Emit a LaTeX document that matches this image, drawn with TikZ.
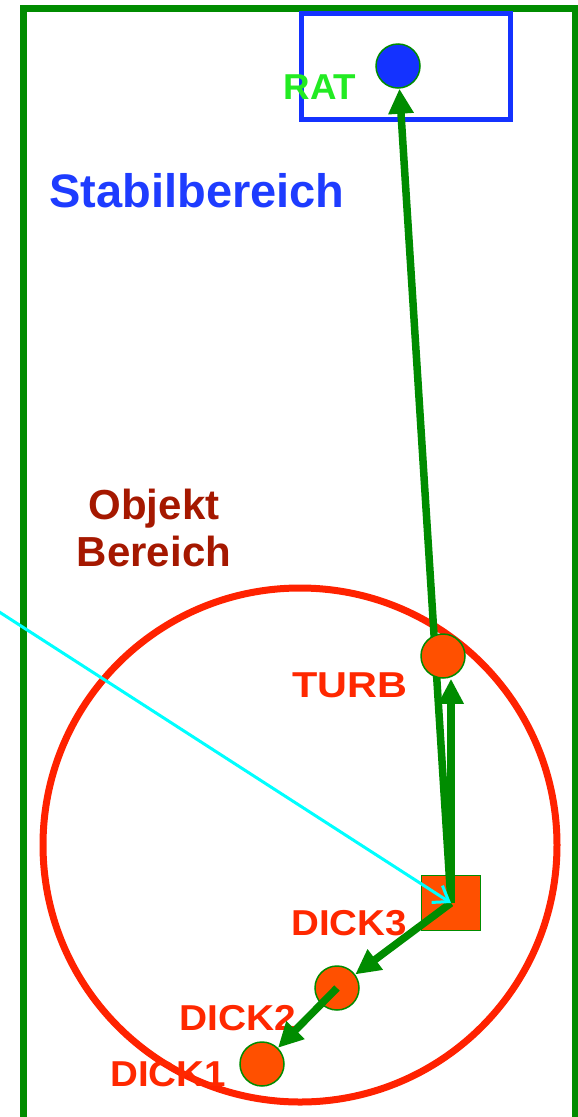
\documentclass[tikz,border=0pt]{standalone}
\usepackage{fontspec}
\setmainfont{Liberation Sans}
\usetikzlibrary{arrows.meta}
\definecolor{framegreen}{RGB}{0,140,0}
\definecolor{ringred}{RGB}{255,34,0}
\definecolor{objorange}{RGB}{255,80,0}
\definecolor{boxblue}{RGB}{20,50,255}
\definecolor{titleblue}{RGB}{30,60,255}
\definecolor{darkred}{RGB}{165,24,0}
\definecolor{labelred}{RGB}{255,40,0}
\definecolor{ratgreen}{RGB}{34,235,34}
\definecolor{linecyan}{RGB}{0,255,255}
\pgfdeclarelayer{foreground}
\pgfsetlayers{main,foreground}
\tikzset{
  obj/.style={circle,draw=framegreen,line width=1.5pt,fill=objorange,minimum size=44pt,inner sep=0pt},
  sqobj/.style={rectangle,draw=framegreen,line width=1.5pt,fill=objorange,minimum width=59pt,minimum height=55pt,inner sep=0pt},
  flow/.style={draw=framegreen,line width=7.5pt,-{Triangle[length=25pt,width=24pt]}},
  lbl/.style={font=\fontsize{36}{36}\selectfont\bfseries,anchor=base,inner sep=0pt},
  title/.style={font=\fontsize{47}{47}\selectfont\bfseries,anchor=base,inner sep=0pt},
  subtitle/.style={font=\fontsize{42}{42}\selectfont\bfseries,anchor=base,inner sep=0pt,text=darkred}
}
\begin{document}
\begin{tikzpicture}[x=1pt,y=-1pt]
\useasboundingbox (0,0) rectangle (578,1117);
\fill[white] (0,0) rectangle (578,1117);
% frame
\draw[framegreen,line width=7pt] (23.5,1140) -- (23.5,8.5) -- (575.5,8.5) -- (575.5,1140);
% stable region box
\draw[boxblue,line width=5pt] (301,13) rectangle (510,119);
% object region ring
\draw[ringred,line width=7pt] (300,845) circle[radius=257];
% titles
\node[title,text=titleblue] (stab) at (197,207) {Stabilbereich};
\node[subtitle] (obj1) at (154,519) {Objekt};
\node[subtitle] (obj2) at (154,566) {Bereich};
% labels
\node[lbl,text=ratgreen] (lrat) at (320,99) {\scalebox{1.02}[1]{RAT}};
\node[lbl,text=labelred] (lturb) at (350,697) {\scalebox{1.15}[1]{TURB}};
\node[lbl,text=labelred] (ld3) at (349,935) {\scalebox{1.07}[1]{DICK3}};
\node[lbl,text=labelred] (ld2) at (238,1030) {\scalebox{1.08}[1]{DICK2}};
\node[lbl,text=labelred] (ld1) at (168,1086) {\scalebox{1.07}[1]{DICK1}};
% objects
\node[sqobj] (d3) at (451,903) {};
\node[obj,fill=boxblue] (rat) at (398,66) {};
\node[obj] (d2) at (337,988) {};
\node[obj] (d1) at (262,1064) {};
\begin{pgfonlayer}{foreground}
\node[obj] (turb) at (443,656) {};
\end{pgfonlayer}
% connectors
\draw[flow] (d3.center) -- (rat);
\draw[flow] (d3.center) -- (d3.center |- turb.south);
\draw[flow] (d3.center) -- (d2);
\draw[flow] (d2.center) -- (d1);
\coordinate (cstart) at (-10,606);
\draw[linecyan,line width=3pt,-{Straight Barb[length=14pt,width=20pt,line width=3pt]}] (cstart) -- (d3.center);
\end{tikzpicture}
\end{document}
